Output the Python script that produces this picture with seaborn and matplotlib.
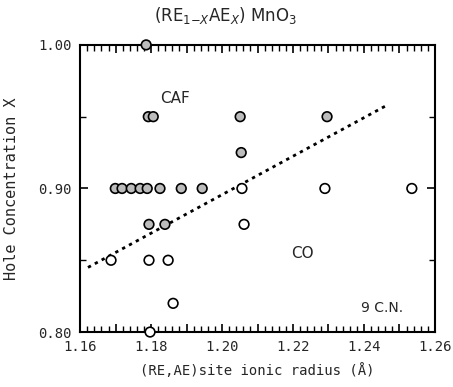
import numpy as np
import pandas as pd
import matplotlib
matplotlib.use("Agg")
import matplotlib.pyplot as plt
from matplotlib.ticker import MultipleLocator, FixedLocator, FixedFormatter
import seaborn as sns

# Data
shaded_r = [1.1786, 1.1699, 1.1718, 1.1744, 1.1769, 1.1789, 1.1825, 1.1885, 1.1944,
            1.1792, 1.1806, 1.2051, 1.2296, 1.2054, 1.1794, 1.1839]
shaded_x = [1.00, 0.90, 0.90, 0.90, 0.90, 0.90, 0.90, 0.90, 0.90,
            0.95, 0.95, 0.95, 0.95, 0.925, 0.875, 0.875]
hollow_r = [1.2056, 1.2290, 1.2535, 1.2062, 1.1687, 1.1794, 1.1848, 1.1862, 1.1797]
hollow_x = [0.90, 0.90, 0.90, 0.875, 0.85, 0.85, 0.85, 0.82, 0.80]
trend_r = [1.1622, 1.2465]
trend_x = [0.845, 0.958]
x_ticks = [1.16, 1.18, 1.20, 1.22, 1.24, 1.26]
y_ticks = [0.80, 0.90, 1.00]

df = pd.DataFrame({
    "radius": shaded_r + hollow_r,
    "X": shaded_x + hollow_x,
    "kind": ["shaded"] * len(shaded_r) + ["hollow"] * len(hollow_r),
})
trend = pd.DataFrame({"radius": trend_r, "X": trend_x})

sns.set_style("ticks")
plt.rcParams["font.family"] = ["DejaVu Sans Mono", "DejaVu Sans"]
plt.rcParams["axes.axisbelow"] = False

fig = plt.figure(figsize=(4.53, 3.87), dpi=100)
ax = fig.add_axes([0.177, 0.142, 0.783, 0.742])

sns.lineplot(data=trend, x="radius", y="X", ax=ax, color="black",
             linewidth=2, dashes=False, linestyle=(0, (1.2, 1.6)))
sns.scatterplot(data=df, x="radius", y="X", hue="kind", ax=ax,
                palette={"shaded": "#bcbcbc", "hollow": "white"},
                edgecolor="black", linewidth=1.2, s=48, legend=False, zorder=3,
                clip_on=False)

ax.set_xlim(1.16, 1.26)
ax.set_ylim(0.80, 1.00)

# x: longer ticks every 0.01 (labels every 0.02), short ticks every 0.002
x_major = np.round(np.arange(1.16, 1.2601, 0.01), 2)
ax.xaxis.set_major_locator(FixedLocator(x_major))
ax.xaxis.set_major_formatter(FixedFormatter(
    [f"{v:.2f}" if np.round(v, 2) in x_ticks else "" for v in x_major]))
ax.xaxis.set_minor_locator(MultipleLocator(0.002))
ax.set_yticks(y_ticks)
ax.set_yticklabels([f"{v:.2f}" for v in y_ticks])
ax.yaxis.set_minor_locator(MultipleLocator(0.05))
ax.tick_params(which="major", direction="in", length=6, width=1.2,
               top=True, right=True, pad=6, labelsize=10, color="black")
ax.tick_params(which="minor", direction="in", length=4, width=1,
               top=True, right=True, bottom=True, left=True, color="black")
ax.set_axisbelow(False)
for sp in ax.spines.values():
    sp.set_linewidth(1.5)
    sp.set_color("black")

ax.set_xlabel("(RE,AE)site ionic radius (Å)", fontsize=10, labelpad=6)
ax.set_ylabel("Hole Concentration X", fontsize=11, labelpad=14)

ax.text(1.1868, 0.963, "CAF", fontsize=11, family="DejaVu Sans",
        ha="center", va="center")
ax.text(1.2228, 0.855, "CO", fontsize=11, family="DejaVu Sans",
        ha="center", va="center")
ax.text(1.245, 0.8167, "9 C.N.", fontsize=10, family="DejaVu Sans",
        ha="center", va="center")

fig.text(226 / 453, 1 - 16 / 387, r"(RE$_{1\mathsf{-}X}$AE$_X$) MnO$_3$",
         fontsize=12, family="DejaVu Sans", ha="center", va="center")

fig.savefig("out.png", dpi=100)
